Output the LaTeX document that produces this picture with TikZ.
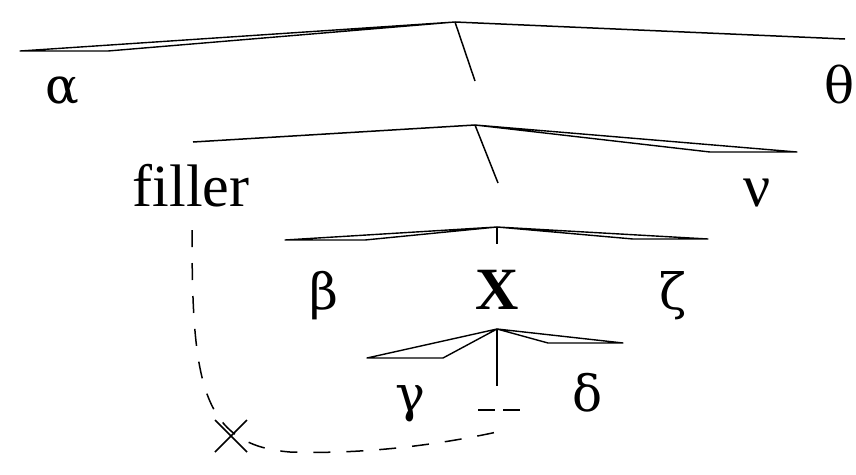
\documentclass[tikz,border=0pt]{standalone}
\usepackage{fontspec}
\setmainfont{Liberation Serif}
\newfontfamily\greekfont{DejaVu Serif}
\usetikzlibrary{calc}
\begin{document}
\begin{tikzpicture}[x=1pt,y=-1pt,
  branch/.style={line width=1.5pt,line join=miter},
  thin tri/.style={line width=1.4pt,line join=round},
  lbl/.style={inner sep=0pt,anchor=base,font=\fontsize{60}{60}\selectfont},
  glbl/.style={inner sep=0pt,anchor=base,font=\fontsize{50}{50}\selectfont\greekfont},
  trace/.style={line width=1.5pt,dash pattern=on 17pt off 16pt},
  gapmark/.style={line width=1.5pt,dash pattern=on 17pt off 8pt}]
\useasboundingbox (0,0) rectangle (856,474);
% apexes
\coordinate (a1) at (455,22);
\coordinate (a2) at (475,125);
\coordinate (a3) at (497,227);
\coordinate (a4) at (497,329);
% labels
\node[glbl] (alpha) at (62,103) {α};
\node[glbl,anchor=base east] (theta) at (855,103) {θ};
\node[lbl] (filler) at (191,206) {filler};
\node[lbl] (nu) at (757,206) {ν};
\node[glbl] (beta) at (324,309) {β};
\node[lbl,font=\fontsize{60}{60}\selectfont\bfseries] (X) at (497,309) {X};
\node[glbl] (zeta) at (673,309) {ζ};
\node[glbl] (gamma) at (410,411) {γ};
\node[glbl] (delta) at (588,411) {δ};
% level 1
\draw[thin tri] (a1) -- (20,51) -- (108,51) -- cycle;
\draw[branch] (a1) -- (845,39);
\draw[branch] (a1) -- (475,81);
% level 2
\draw[branch] (a2) -- (193,142);
\draw[branch] (a2) -- (498,183);
\draw[thin tri] (a2) -- (710,152) -- (797,152) -- cycle;
% level 3
\draw[thin tri] (a3) -- (285,240) -- (365,240) -- cycle;
\draw[thin tri] (a3) -- (633,239) -- (708,239) -- cycle;
\draw[branch] (a3) -- (497,244);
% level 4
\draw[thin tri] (a4) -- (367,358) -- (443,358) -- cycle;
\draw[thin tri] (a4) -- (548,343) -- (623,343) -- cycle;
\draw[branch] (a4) -- (497,386);
\coordinate (gapL) at (478,410);
\coordinate (gapR) at (520,410);
\draw[gapmark] (gapL) -- (gapR);
% trace of the filler
\coordinate (tstart) at (192,230);
\coordinate (tend) at (497,432);
\coordinate (xc) at (231,436);
\draw[trace] (tstart) .. controls (192,380) and (200,445) .. (290,452)
  .. controls (380,455) and (460,440) .. (tend);
\draw[line width=1.6pt] ($(xc)+(-16,-16)$) -- ($(xc)+(16,16)$);
\draw[line width=1.6pt] ($(xc)+(-16,16)$) -- ($(xc)+(16,-16)$);
\end{tikzpicture}
\end{document}
